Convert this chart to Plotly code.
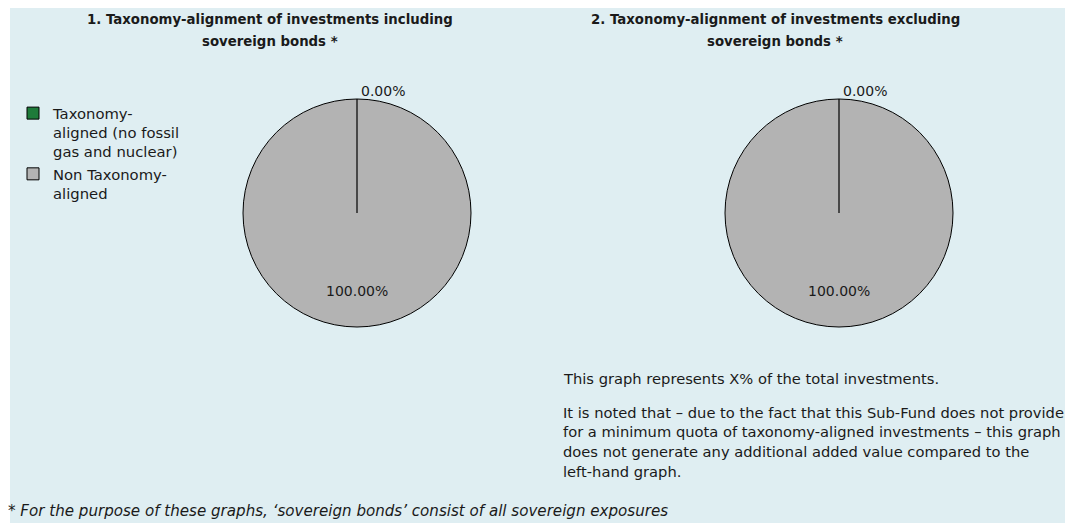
import plotly.graph_objects as go

# ---- data ----
categories = ["Taxonomy-<br>aligned (no fossil<br>gas and nuclear)", "Non Taxonomy-<br>aligned"]
values_incl = [0.0, 100.0]
values_excl = [0.0, 100.0]
slice_colors = ["#1E7B3A", "#B3B3B3"]
title_1_lines = ["1. Taxonomy-alignment of investments including", "sovereign bonds *"]
title_2_lines = ["2. Taxonomy-alignment of investments excluding", "sovereign bonds *"]
note_1 = "This graph represents X% of the total investments."
note_2_lines = ["It is noted that \u2013 due to the fact that this Sub-Fund does not provide",
                "for a minimum quota of taxonomy-aligned investments \u2013 this graph",
                "does not generate any additional added value compared to the",
                "left-hand graph."]
footnote = "* For the purpose of these graphs, \u2018sovereign bonds\u2019 consist of all sovereign exposures"

PAGE_OFF = 8          # default body margin of the html page
W, H = 1073 - PAGE_OFF, 527 - PAGE_OFF
FONT = "DejaVu Sans"
TXT = "#1a1a1a"
BG = "#DFEEF2"
R = 114


def px_x(v):
    return (v - PAGE_OFF) / W


def px_y(v):
    return 1 - (v - PAGE_OFF) / H


def pie_domain(cx, cy, r):
    return dict(x=[px_x(cx - r), px_x(cx + r)], y=[px_y(cy + r), px_y(cy - r)])


def text_ann(text, x, y, size, anchor="left", bold=False, italic=False):
    if bold:
        text = f"<b>{text}</b>"
    if italic:
        text = f"<i>{text}</i>"
    return dict(text=text, x=px_x(x), y=px_y(y), xref="paper", yref="paper",
                xanchor=anchor, yanchor="middle", showarrow=False, align=anchor,
                font=dict(family=FONT, size=size, color=TXT))


fig = go.Figure()
shapes = [dict(type="rect", xref="paper", yref="paper", x0=px_x(10), x1=px_x(1070),
               y0=px_y(523), y1=px_y(8), fillcolor=BG, line=dict(width=0), layer="below")]
annotations = []

for vals, (cx, cy), leg in [(values_incl, (357, 213), "legend"), (values_excl, (839, 213), "legend2")]:
    total = sum(vals)
    fig.add_trace(go.Pie(
        labels=categories, values=vals, sort=False, direction="clockwise", rotation=0,
        marker=dict(colors=slice_colors, line=dict(color="#000000", width=1)),
        texttemplate="%{percent:.2%}", textposition=["outside", "none"],
        textfont=dict(family=FONT, size=14, color=TXT),
        domain=pie_domain(cx, cy, R), legend=leg, showlegend=True,
        hoverinfo="label+percent",
    ))
    # slice boundary at 12 o'clock (start of the first, zero-sized slice)
    shapes.append(dict(type="line", xref="paper", yref="paper",
                       x0=px_x(cx), x1=px_x(cx), y0=px_y(cy), y1=px_y(cy - R),
                       line=dict(color="#000000", width=1.2)))
    # label of the full slice, placed at its mid-angle (6 o'clock) like the source chart
    annotations.append(text_ann(f"{vals[1] / total * 100:.2f}%", cx, cy + 0.68 * R, 14, "center"))

legend_style = dict(font=dict(family=FONT, size=14.8, color=TXT), bgcolor="rgba(0,0,0,0)",
                    xanchor="left", yanchor="top", tracegroupgap=0, itemwidth=30, valign="top")

for i, line in enumerate(title_1_lines):
    annotations.append(text_ann(line, 270, 20 + 21 * i, 13.3, "center", bold=True))
for i, line in enumerate(title_2_lines):
    annotations.append(text_ann(line, 775, 20 + 21 * i, 13.3, "center", bold=True))
annotations.append(text_ann(note_1, 561, 378, 14.7))
for i, line in enumerate(note_2_lines):
    annotations.append(text_ann(line, 561, 412 + 19.7 * i, 14.7))
annotations.append(text_ann(footnote, 6, 511, 15.1, italic=True))

fig.update_layout(
    width=W, height=H, margin=dict(l=0, r=0, t=0, b=0),
    paper_bgcolor="white", plot_bgcolor="white",
    font=dict(family=FONT, size=14, color=TXT),
    legend=dict(x=px_x(13), y=px_y(97), **legend_style),
    legend2=dict(x=px_x(554), y=px_y(97), **legend_style),
    shapes=shapes,
    annotations=annotations,
)

fig.write_html("out.html")
